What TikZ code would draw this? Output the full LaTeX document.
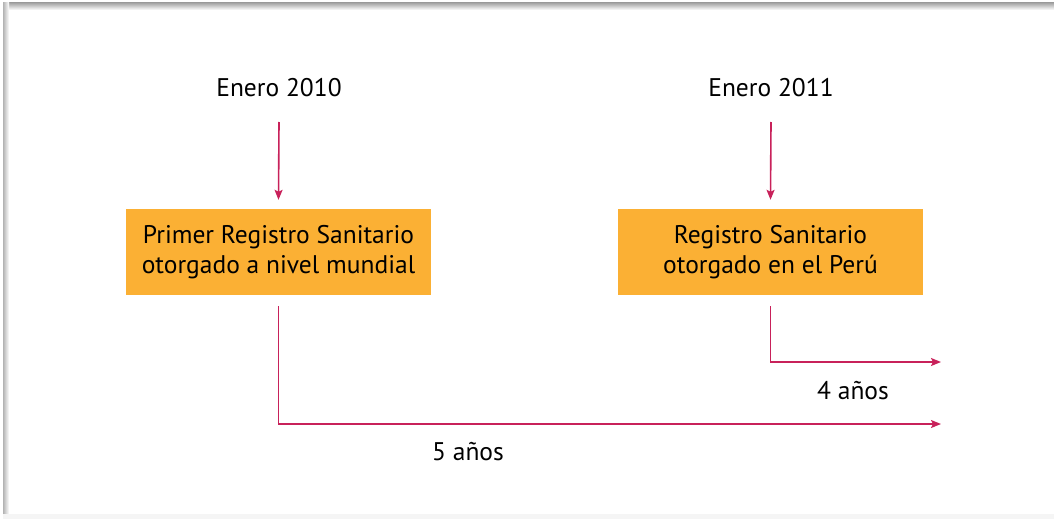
\documentclass[tikz,border=0pt]{standalone}
\usepackage{fontspec}
\setmainfont{PT Sans}
\usetikzlibrary{arrows.meta}
\definecolor{boxorange}{HTML}{FBB034}
\definecolor{linecrimson}{HTML}{C8215A}
\tikzset{%
  regbox/.style={fill=boxorange, minimum width=305pt, minimum height=86pt,
                 align=center, inner sep=0pt, font=\fontsize{25.5}{30}\selectfont},
  datelabel/.style={inner sep=0pt, font=\fontsize{25.5}{30}\selectfont},
  conn/.style={draw=linecrimson, line width=1.6pt,
               -{Stealth[length=10pt,width=8pt,inset=2pt]}},
}
\begin{document}
\begin{tikzpicture}[x=1pt,y=-1pt]
              \useasboundingbox (0,0) rectangle (1054,519);
              % frame shadow
              \shade[top color=gray!70, bottom color=white] (3,3) rectangle (1054,10);
              \shade[left color=gray!60, right color=white] (3,3) rectangle (9,514);
              \fill[gray!8] (3,514) rectangle (1054,519);
              % dates and boxes
              \node[datelabel] (e2010) at (279,88) {Enero 2010};
              \node[datelabel] (e2011) at (771,88) {Enero 2011};
              \node[regbox] (reg1) at (278.5,252) {Primer Registro Sanitario\\otorgado a nivel mundial};
              \node[regbox] (reg2) at (770.5,252) {Registro Sanitario\\otorgado en el Perú};
              \coordinate (end4) at (941,362);
              \coordinate (end5) at (941,424);
              \draw[conn] ([yshift=-34pt]e2010.center) -- ([yshift=9pt]reg1.north);
              \draw[conn] ([yshift=-34pt]e2011.center) -- ([yshift=9pt]reg2.north);
              \draw[conn] ([yshift=-11pt]reg1.south) |- (end5);
              \draw[conn] ([yshift=-11pt]reg2.south) |- (end4);
              \node[datelabel] (y5) at (468,452) {5 años};
              \node[datelabel] (y4) at (853,391) {4 años};
          \end{tikzpicture}
\end{document}
